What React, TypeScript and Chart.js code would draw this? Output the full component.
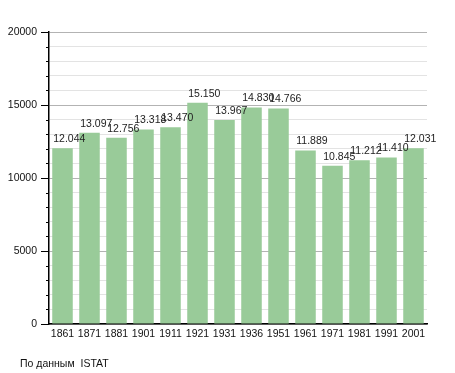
import React, { useEffect, useRef } from "react";
import { Chart, registerables } from "chart.js";

Chart.register(...registerables);

const years = ["1861", "1871", "1881", "1901", "1911", "1921", "1931", "1936", "1951", "1961", "1971", "1981", "1991", "2001"];
const population = [12044, 13097, 12756, 13318, 13470, 15150, 13967, 14830, 14766, 11889, 10845, 11212, 11410, 12031];
const yMax = 20000;
const yMinorStep = 1000;
const yMajorStep = 5000;
const sourceNote = "По данным  ISTAT";

const FONT = "'Liberation Sans', Arial, sans-serif";

const fmt = (v: number) => (v / 1000).toFixed(3);

const decorPlugin = {
  id: "decor",
  afterDatasetsDraw(chart: any) {
    const ctx = chart.ctx;
    const meta = chart.getDatasetMeta(0);
    ctx.save();
    ctx.font = `10.5px ${FONT}`;
    ctx.fillStyle = "#222";
    ctx.textAlign = "left";
    ctx.textBaseline = "middle";
    meta.data.forEach((bar: any, i: number) => {
      const v = population[i];
      ctx.fillText(fmt(v), bar.x - bar.width / 2 + 1, bar.y - 9);
    });
    ctx.restore();
  },
  afterDraw(chart: any) {
    const ctx = chart.ctx;
    const y = chart.scales.y;
    const left = chart.chartArea.left;
    ctx.save();
    ctx.strokeStyle = "#000";
    ctx.lineWidth = 1;
    for (let v = 0; v <= yMax; v += yMinorStep) {
      const py = Math.round(y.getPixelForValue(v)) + 0.5;
      const len = v % yMajorStep === 0 ? 8 : 3;
      ctx.beginPath();
      ctx.moveTo(left - len, py);
      ctx.lineTo(left, py);
      ctx.stroke();
    }
    ctx.restore();
  },
};

export default function App() {
  const ref = useRef<HTMLCanvasElement | null>(null);
  useEffect(() => {
    if (!ref.current) return;
    const chart = new Chart(ref.current, {
      type: "bar",
      data: {
        labels: years,
        datasets: [
          {
            data: population,
            backgroundColor: "#99cb99",
            borderWidth: 0,
            barPercentage: 0.76,
            categoryPercentage: 1,
          },
        ],
      },
      options: {
        responsive: false,
        animation: false,
        layout: { padding: { left: 0, right: 28, top: 32, bottom: 0 } },
        plugins: { legend: { display: false }, tooltip: { enabled: false } },
        scales: {
          x: {
            offset: true,
            grid: { display: false, drawTicks: false },
            border: { color: "#000", width: 1.5 },
            ticks: { color: "#111", font: { family: FONT, size: 10.5 }, padding: 4, maxRotation: 0, autoSkip: false },
            afterFit: (s: any) => { s.height = 49; },
          },
          y: {
            min: 0,
            max: yMax,
            grid: {
              drawTicks: false,
              color: (c: any) => (c.tick && c.tick.value % yMajorStep === 0 ? "#b3b3b3" : "#e3e3e3"),
            },
            border: { color: "#000", width: 1.5 },
            ticks: {
              stepSize: yMinorStep,
              autoSkip: false,
              color: "#111",
              font: { family: FONT, size: 10.5 },
              padding: 12,
              callback: (v: any) => (Number(v) % yMajorStep === 0 ? String(v) : ""),
            },
            afterFit: (s: any) => { s.width = 49; },
          },
        },
      },
      plugins: [decorPlugin],
    });
    return () => chart.destroy();
  }, []);
  return (
    <div style={{ position: "fixed", left: 0, top: 0, width: 455, height: 373, background: "#fff" }}>
      <canvas ref={ref} width={455} height={373} style={{ display: "block" }} />
      <div
        style={{
          position: "absolute",
          left: 20,
          top: 356,
          fontFamily: FONT,
          fontSize: 10.5,
          color: "#111",
          whiteSpace: "pre",
          lineHeight: "14px",
        }}
      >
        {sourceNote}
      </div>
    </div>
  );
}
